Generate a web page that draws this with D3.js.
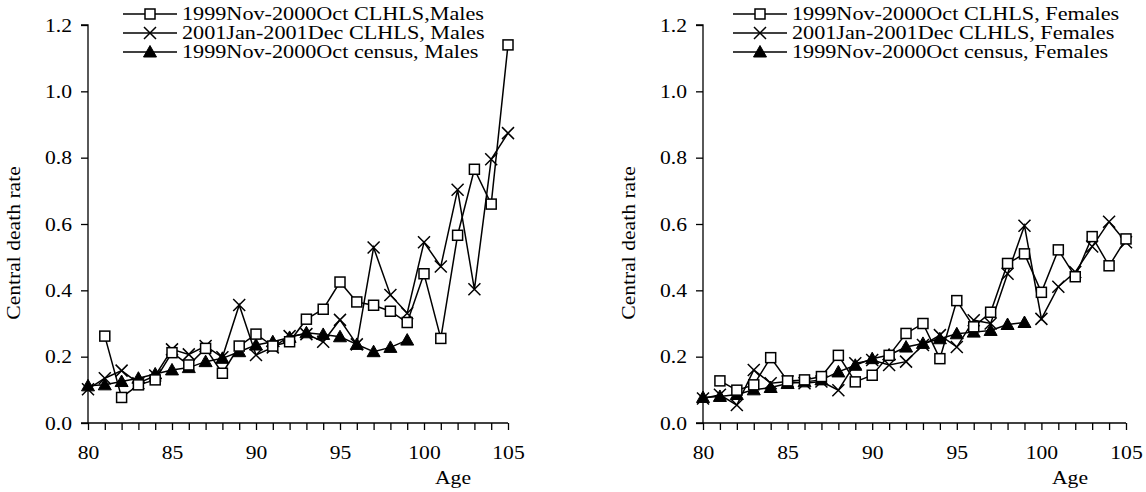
<!DOCTYPE html>
<html><head><meta charset="utf-8">
<script src="https://cdn.jsdelivr.net/npm/d3@7"></script>
<style>body{margin:0;background:#fff}svg{display:block}text{font-family:"Liberation Serif","Times New Roman",Tinos,"DejaVu Serif",serif;fill:#000}</style>
</head><body>
<script>
// Ages
const agesClhls99 = d3.range(81, 106);   // 81..105
const agesClhls01 = d3.range(80, 106);   // 80..105
const agesCensus = d3.range(80, 100);    // 80..99

// Males
const maleClhls99 = [0.262,0.077,0.115,0.13,0.212,0.175,0.225,0.15,0.232,0.268,0.232,0.245,0.313,0.343,0.425,0.365,0.355,0.337,0.303,0.45,0.255,0.566,0.765,0.66,1.14];
const maleClhls01 = [0.102,0.135,0.158,0.12,0.143,0.222,0.207,0.232,0.198,0.356,0.205,0.228,0.262,0.268,0.245,0.311,0.237,0.529,0.386,0.331,0.545,0.472,0.703,0.403,0.795,0.874];
const maleCensus = [0.112,0.115,0.125,0.135,0.148,0.16,0.167,0.185,0.195,0.215,0.235,0.245,0.258,0.272,0.267,0.26,0.237,0.215,0.228,0.25];

// Females
const femaleClhls99 = [0.127,0.099,0.115,0.197,0.127,0.13,0.14,0.204,0.124,0.144,0.204,0.27,0.30,0.194,0.369,0.29,0.334,0.481,0.51,0.394,0.522,0.441,0.562,0.474,0.555];
const femaleClhls01 = [0.074,0.085,0.054,0.16,0.12,0.125,0.12,0.125,0.099,0.18,0.19,0.175,0.185,0.235,0.265,0.229,0.31,0.30,0.45,0.595,0.314,0.411,0.455,0.532,0.607,0.545];
const femaleCensus = [0.077,0.08,0.086,0.10,0.107,0.119,0.124,0.13,0.154,0.174,0.194,0.205,0.229,0.24,0.254,0.269,0.274,0.279,0.297,0.303];

const yTicks = [0,0.2,0.4,0.6,0.8,1.0,1.2];
const xLabelTicks = [80,85,90,95,100,105];
const legendMales = ["1999Nov-2000Oct CLHLS,Males","2001Jan-2001Dec CLHLS, Males","1999Nov-2000Oct census, Males"];
const legendFemales = ["1999Nov-2000Oct CLHLS, Females","2001Jan-2001Dec CLHLS, Females","1999Nov-2000Oct census, Females"];
const yTitle = "Central death rate";
const xTitle = "Age";

const W = 1146, H = 492;
const FONT = '"Liberation Serif","Times New Roman",Tinos,"DejaVu Serif",serif';
const svg = d3.select("body").append("svg").attr("width", W).attr("height", H)
  .style("font-family", FONT);
const FS = 18;
const FSL = 18.5;
const SX = 1.2; // horizontal text stretch seen in the reference

function stretched(sel, x, y, anchor) {
  return sel.attr("transform", `translate(${x},${y}) scale(${SX},1)`).attr("text-anchor", anchor);
}

function marker(g, type, x, y) {
  if (type === "square") {
    g.append("rect").attr("x", x-5).attr("y", y-5).attr("width", 10).attr("height", 10)
      .attr("fill", "#fff").attr("stroke", "#000").attr("stroke-width", 1.5);
  } else if (type === "cross") {
    g.append("path").attr("d", `M${x-6},${y-6}L${x+6},${y+6}M${x-6},${y+6}L${x+6},${y-6}`)
      .attr("stroke", "#000").attr("stroke-width", 1.5).attr("fill", "none");
  } else {
    g.append("path").attr("d", `M${x},${y-6.5}L${x+6.5},${y+5}L${x-6.5},${y+5}Z`)
      .attr("fill", "#000").attr("stroke", "#000").attr("stroke-width", 1);
  }
}

function panel(cfg) {
  const x = d3.scaleLinear().domain([80,105]).range([cfg.x0, cfg.x1]);
  const y = d3.scaleLinear().domain([0,1.2]).range([423, 25]);
  const g = svg.append("g");

  // y axis
  const ya = g.append("g").attr("transform", `translate(${cfg.x0},0)`)
    .call(d3.axisLeft(y).tickValues(yTicks).tickFormat(d3.format(".1f")).tickSize(7));
  ya.attr("font-family", null);
  ya.select(".domain").attr("stroke", "#000").attr("stroke-width", 1.3).attr("d", `M-7,${y(1.2)}H0V${y(0)}H-7`);
  ya.selectAll(".tick line").attr("stroke", "#000").attr("stroke-width", 1.3);
  ya.selectAll(".tick text").each(function() {
    d3.select(this).attr("x", null).attr("dy", "0.35em").attr("font-size", FS).style("font-family", FONT);
    stretched(d3.select(this), -16, 0, "end");
  });

  // x axis
  const xa = g.append("g").attr("transform", `translate(0,${y(0)})`)
    .call(d3.axisBottom(x).tickValues(d3.range(80,106)).tickFormat(d => xLabelTicks.includes(d) ? d : "").tickSize(7));
  xa.attr("font-family", null);
  xa.select(".domain").attr("stroke", "#000").attr("stroke-width", 1.3).attr("d", `M${cfg.x0},0H${cfg.x1}`);
  xa.selectAll(".tick line").attr("stroke", "#000").attr("stroke-width", 1.3);
  xa.selectAll(".tick text").each(function() {
    d3.select(this).attr("y", null).attr("dy", "0.35em").attr("font-size", FS).style("font-family", FONT);
    stretched(d3.select(this), 0, 30, "middle");
  });

  // titles
  g.append("text").attr("transform", `translate(${cfg.yTitleX},${243}) rotate(-90) scale(${SX},1)`)
    .attr("text-anchor", "middle").attr("font-size", FS).text(yTitle);
  stretched(g.append("text"), cfg.ageX, 484, "middle").attr("font-size", FS).text(xTitle);

  const line = d3.line().x(d => x(d[0])).y(d => y(d[1]));
  const series = [
    {ages: agesClhls99, vals: cfg.s1, type: "square"},
    {ages: agesClhls01, vals: cfg.s2, type: "cross"},
    {ages: agesCensus, vals: cfg.s3, type: "triangle"}
  ];
  series.slice().reverse().forEach(s => {
    const pts = s.ages.map((a,i) => [a, s.vals[i]]);
    g.append("path").attr("d", line(pts)).attr("fill", "none").attr("stroke", "#000").attr("stroke-width", 1.5);
  });
  series.slice().reverse().forEach(s => {
    const mg = g.append("g");
    s.ages.forEach((a,i) => marker(mg, s.type, x(a), y(s.vals[i])));
  });

  // legend
  const types = ["square","cross","triangle"];
  const rows = [14, 33, 52];
  cfg.legend.forEach((t,i) => {
    const lg = g.append("g");
    lg.append("line").attr("x1", cfg.legX).attr("x2", cfg.legX+54).attr("y1", rows[i]).attr("y2", rows[i])
      .attr("stroke", "#000").attr("stroke-width", 1.5);
    marker(lg, types[i], cfg.legX+27, rows[i]);
    stretched(lg.append("text"), cfg.legX+59, rows[i], "start").attr("dy", "0.35em")
      .attr("font-size", FSL).text(t);
  });
}

panel({x0: 88, x1: 508, s1: maleClhls99, s2: maleClhls01, s3: maleCensus, legend: legendMales, legX: 123, yTitleX: 20, ageX: 453});
panel({x0: 703, x1: 1126, s1: femaleClhls99, s2: femaleClhls01, s3: femaleCensus, legend: legendFemales, legX: 733, yTitleX: 635, ageX: 1070});
</script>
</body></html>
